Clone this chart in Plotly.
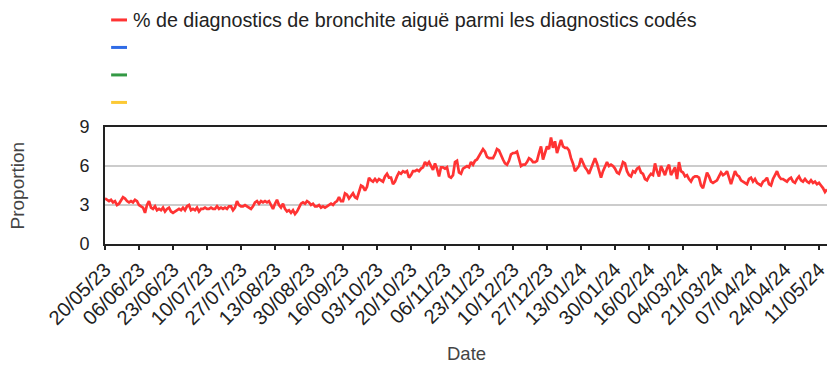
import pandas as pd
import plotly.graph_objects as go

# Daily share (%) of acute bronchitis among coded diagnoses, starting 20/05/2023
start_date = "2023-05-20"
bronchite_pct = [
    3.5, 3.4, 3.3, 3.4, 3.2, 3.3, 3.0, 3.1, 3.4, 3.6,
    3.5, 3.3, 3.2, 3.3, 3.2, 3.4, 3.3, 3.0, 2.9, 2.8,
    2.4, 3.0, 3.3, 2.8, 2.7, 2.9, 2.6, 2.7, 2.6, 2.8,
    2.5, 2.7, 2.8, 2.5, 2.4, 2.5, 2.6, 2.7, 2.6, 2.8,
    2.6, 2.9, 3.0, 2.6, 2.7, 2.6, 2.8, 2.5, 2.7, 2.7,
    2.8, 2.7, 2.7, 2.8, 2.7, 2.7, 2.9, 2.7, 2.8, 2.7,
    2.8, 2.7, 2.9, 2.9, 2.6, 2.8, 3.3, 3.0, 2.9, 2.9,
    3.0, 2.9, 2.8, 2.7, 2.9, 3.2, 3.3, 3.1, 3.3, 3.2,
    3.3, 3.2, 3.3, 3.0, 2.7, 3.1, 3.4, 3.0, 2.8, 3.1,
    2.7, 2.5, 2.6, 2.4, 2.6, 2.3, 2.5, 2.8, 3.1, 3.2,
    3.1, 3.3, 3.2, 3.0, 3.1, 2.9, 2.9, 3.0, 2.8, 2.9,
    2.8, 2.9, 3.0, 3.1, 3.0, 3.2, 3.3, 3.6, 3.3, 3.3,
    3.9, 3.8, 3.5, 3.7, 3.9, 3.6, 3.5, 4.0, 4.5, 4.4,
    4.1, 4.4, 5.1, 4.9, 4.8, 5.0, 4.8, 5.0, 4.9, 4.8,
    5.2, 5.4, 5.1, 5.1, 4.6, 4.8, 5.2, 5.5, 5.4, 5.6,
    5.5, 5.6, 5.1, 5.3, 5.6, 5.6, 5.7, 5.6, 5.8, 5.9,
    6.3, 6.1, 6.3, 6.0, 5.7, 6.2, 5.8, 5.2, 5.9, 5.9,
    5.8, 5.9, 5.2, 5.1, 5.3, 6.3, 6.4, 5.5, 5.4, 5.8,
    5.9, 6.0, 5.9, 6.3, 6.1, 6.4, 6.5, 6.8, 7.1, 7.3,
    7.1, 6.7, 6.6, 6.6, 6.6, 6.9, 7.3, 7.2, 6.8, 6.5,
    6.2, 6.1, 6.4, 6.9, 7.0, 7.0, 7.1, 6.5, 6.0, 6.1,
    6.1, 6.3, 6.6, 6.5, 6.3, 6.3, 6.4, 7.0, 7.5, 6.5,
    7.0, 7.5, 7.3, 8.2, 7.4, 7.9, 7.0, 7.6, 8.0, 7.5,
    7.4, 7.4, 7.2, 6.6, 6.2, 5.6, 5.8, 6.0, 6.6, 6.2,
    5.9, 5.7, 5.4, 5.8, 6.2, 6.6, 6.2, 5.6, 5.1, 5.6,
    6.0, 6.3, 6.0, 6.1, 6.0, 5.8, 5.5, 5.4, 5.8, 6.3,
    6.2, 5.6, 5.3, 5.2, 5.6, 5.5, 5.8, 5.9, 5.5, 5.4,
    5.0, 4.9, 5.2, 5.4, 5.3, 6.2, 5.6, 5.2, 6.0, 5.7,
    5.3, 5.8, 6.1, 5.3, 5.6, 5.9, 5.0, 6.3, 5.6, 5.5,
    5.2, 5.3, 5.0, 4.8, 5.1, 5.2, 5.2, 5.1, 4.5, 4.3,
    4.9, 5.5, 5.2, 4.8, 4.7, 4.8, 4.9, 5.2, 5.5, 5.3,
    5.4, 5.6, 5.0, 4.6, 5.1, 5.6, 5.3, 5.2, 4.9, 4.8,
    4.7, 4.6, 5.0, 5.1, 4.8, 5.0, 4.7, 4.6, 4.5, 4.8,
    4.9, 5.1, 4.6, 4.5, 5.0, 5.3, 5.6, 5.2, 5.0, 5.0,
    4.9, 4.8, 5.0, 5.1, 4.8, 4.7, 5.0, 5.2, 4.9, 4.8,
    5.0, 4.8, 4.7, 4.9, 4.7, 4.8, 4.6, 4.7, 4.5, 4.3,
    4.0, 4.2,
]
dates = pd.date_range(start_date, periods=len(bronchite_pct), freq="D")

tick_labels = [
    "20/05/23", "06/06/23", "23/06/23", "10/07/23", "27/07/23", "13/08/23",
    "30/08/23", "16/09/23", "03/10/23", "20/10/23", "06/11/23", "23/11/23",
    "10/12/23", "27/12/23", "13/01/24", "30/01/24", "16/02/24", "04/03/24",
    "21/03/24", "07/04/24", "24/04/24", "11/05/24",
]
tick_dates = pd.to_datetime(tick_labels, format="%d/%m/%y")

y_ticks = [0, 3, 6, 9]

legend_labels = ["% de diagnostics de bronchite aiguë parmi les diagnostics codés", "", "", ""]
legend_colors = ["#ff3333", "#2f6be6", "#339944", "#fcc934"]

FONT = "Liberation Sans, Arial, sans-serif"

fig = go.Figure()
fig.add_trace(go.Scatter(
    x=dates, y=bronchite_pct, mode="lines",
    line=dict(color=legend_colors[0], width=2.7),
    name=legend_labels[0], showlegend=False,
))

# Key drawn above the plot: a short coloured dash per series, label beside it
shapes = []
annotations = []
key_top = 1.915      # paper y of the first key row
key_step = 0.235     # paper-y spacing between rows
for i, (lab, col) in enumerate(zip(legend_labels, legend_colors)):
    yk = key_top - i * key_step
    shapes.append(dict(type="line", xref="paper", yref="paper",
                       x0=0.0085, x1=0.0305, y0=yk, y1=yk,
                       line=dict(color=col, width=3)))
    if lab:
        annotations.append(dict(xref="paper", yref="paper", x=0.0355, y=yk,
                                xanchor="left", yanchor="middle", showarrow=False,
                                text=lab, font=dict(family=FONT, size=19.7, color="#222222")))

annotations.append(dict(xref="paper", yref="paper", x=-0.1205, y=0.5,
                        xanchor="center", yanchor="middle", showarrow=False, textangle=-90,
                        text="Proportion", font=dict(family=FONT, size=19, color="#444444")))
annotations.append(dict(xref="paper", yref="paper", x=0.5, y=-0.94,
                        xanchor="center", yanchor="middle", showarrow=False,
                        text="Date", font=dict(family=FONT, size=18.5, color="#444444")))

fig.update_layout(
    width=831, height=365,
    margin=dict(l=105, r=2, t=127, b=121),
    paper_bgcolor="white", plot_bgcolor="white",
    font=dict(family=FONT, size=18, color="#222222"),
    showlegend=False,
    shapes=shapes,
    annotations=annotations,
)
fig.update_xaxes(
    range=[dates[0], dates[-1]],
    tickmode="array", tickvals=tick_dates, ticktext=tick_labels,
    tickangle=-45, tickfont=dict(size=20, color="#222222"),
    ticks="outside", ticklen=4, tickwidth=1.5, tickcolor="#222222",
    showline=True, linecolor="#222222", linewidth=2, mirror=True,
    showgrid=False, zeroline=False,
)
fig.update_yaxes(
    range=[0, 9], tickmode="array", tickvals=y_ticks,
    tickfont=dict(size=18, color="#222222"),
    ticklabelstandoff=10,
    showline=True, linecolor="#222222", linewidth=2,
    showgrid=True, gridcolor="#cccccc", gridwidth=2,
    zeroline=False,
)

fig.write_html("out.html")
